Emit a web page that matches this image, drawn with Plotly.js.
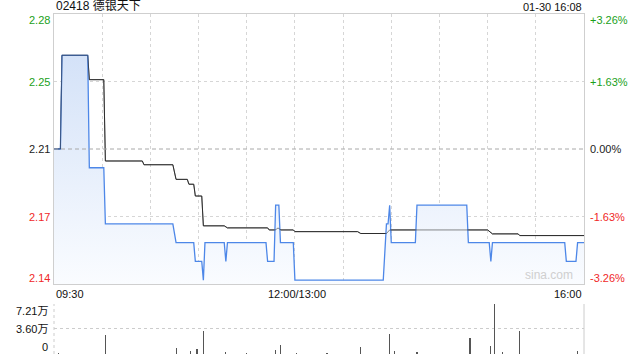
<!DOCTYPE html>
<html>
<head>
<meta charset="utf-8">
<script src="https://cdn.plot.ly/plotly-3.0.1.min.js"></script>
<style>html,body{margin:0;padding:0;background:#fff;}#chart{width:640px;height:360px;}</style>
</head>
<body>
<div id="chart"></div>
<script>
const chartTitle = "02418 德银天下";
const stampText = "01-30 16:08";
const watermark = "sina.com";
const prevClose = 2.21;

const priceTimes = ["09:30","09:34","09:35","09:51","09:52","10:01","10:02","10:44","10:46","10:57","10:58","11:02","11:03","11:04","11:16","11:17","11:18","11:42","11:43","11:47","11:48","11:50","11:51","11:59","13:00","13:55","13:57","13:58","13:59","14:00","14:15","14:16","14:47","14:48","15:01","15:02","15:03","15:48","15:49","15:55","15:56","16:00"];
const priceValues = [2.21,2.21,2.26,2.26,2.20,2.20,2.17,2.17,2.16,2.16,2.15,2.15,2.14,2.16,2.16,2.15,2.16,2.16,2.15,2.15,2.18,2.18,2.16,2.16,2.14,2.14,2.17,2.17,2.18,2.16,2.16,2.18,2.18,2.16,2.16,2.15,2.16,2.16,2.15,2.15,2.16,2.16];

const avgTimes = ["09:30","09:34","09:35","09:51","09:52","10:01","10:02","10:25","10:26","10:44","10:46","10:53","10:54","10:57","10:58","11:02","11:03","11:16","11:18","11:43","11:44","11:48","11:49","11:50","11:51","11:59","13:00","13:39","13:41","13:57","13:59","15:00","15:03","15:19","15:20","16:00"];
const avgValues = [2.21,2.21,2.26,2.26,2.247,2.247,2.2036,2.2036,2.2016,2.2016,2.1938,2.1938,2.1912,2.1912,2.1849,2.1849,2.1690,2.1690,2.1679,2.1679,2.1668,2.1668,2.1677,2.1677,2.1668,2.1668,2.1659,2.1659,2.1649,2.1649,2.1668,2.1668,2.1647,2.1647,2.1638,2.1638];

const volTimes = ["09:33","09:40","10:02","10:20","10:46","10:55","10:59","11:03","11:17","11:30","11:48","11:51","13:01","13:20","13:41","13:59","14:02","14:16","14:49","15:02","15:04","15:09","15:20","15:56"];
const volValues = [800,600,27800,700,8600,3700,7200,32600,2500,900,6200,12400,2000,900,9500,29300,4000,2500,22500,11000,72100,2500,33600,4800];

const pctTicks = [3.26, 1.63, 0, -1.63, -3.26];
const priceTickText = ["2.28","2.25","2.21","2.17","2.14"];
const pctTickText = ["+3.26%","+1.63%","0.00%","-1.63%","-3.26%"];
const xTickText = ["09:30","12:00/13:00","16:00"];
const xTickTimes = ["09:30","12:00","16:00"];
const volMax = 72100;
const volTickText = ["7.21万","3.60万","0"];

function toIdx(t){
  const p = t.split(":").map(Number);
  const m = p[0]*60 + p[1];
  return m <= 720 ? m - 570 : 150 + (m - 780);
}

const GREEN = "#1a9f1a", RED = "#f02828", BLACK = "#222";
const FONT = "Liberation Sans, Arial, Noto Sans CJK SC, sans-serif";
const tickPrices = pctTicks.map(p => prevClose*(1+p/100));
const yLo = tickPrices[4], yHi = tickPrices[0];
const colorFor = p => p > 0 ? GREEN : (p < 0 ? RED : BLACK);

const traces = [
  {
    x: avgTimes.map(toIdx), y: avgValues, type: "scatter", mode: "lines",
    line: {color: "#333333", width: 1}, hoverinfo: "skip", xaxis: "x", yaxis: "y"
  },
  {
    x: priceTimes.map(toIdx), y: priceValues, type: "scatter", mode: "lines",
    line: {color: "#4d87e8", width: 1.3}, fill: "tozeroy",
    fillgradient: {type: "vertical", start: yLo, stop: 2.26,
      colorscale: [[0, "rgba(250,252,255,1)"], [1, "rgba(212,226,248,1)"]]},
    hoverinfo: "skip", xaxis: "x", yaxis: "y"
  },
  {
    x: avgTimes.map(toIdx), y: avgValues, type: "scatter", mode: "lines",
    line: {color: "rgba(40,40,40,0.55)", width: 1}, hoverinfo: "skip", xaxis: "x", yaxis: "y"
  },
  {
    x: volTimes.map(toIdx), y: volValues, type: "bar", width: 0.7,
    marker: {color: "#555555", line: {width: 0}}, hoverinfo: "skip", xaxis: "x2", yaxis: "y2"
  }
];

const grid30 = [];
for (let i = 0; i <= 330; i += 30) grid30.push(i);

const annotations = [];
annotations.push({xref: "paper", yref: "paper", x: 0, y: 1, xanchor: "left", yanchor: "bottom", yshift: -1,
  text: chartTitle, showarrow: false, font: {family: FONT, size: 12, color: "#111"}});
annotations.push({xref: "paper", yref: "paper", x: 1, y: 1, xanchor: "right", yanchor: "bottom", yshift: -1,
  text: stampText, showarrow: false, font: {family: FONT, size: 11, color: "#111"}});
const edgeShift = [-6, 0, 0, 0, 6];
pctTicks.forEach((p, i) => {
  annotations.push({xref: "paper", yref: "y", x: 0, y: tickPrices[i], xanchor: "right", yanchor: "middle",
    xshift: -2, yshift: edgeShift[i], text: priceTickText[i], showarrow: false,
    font: {family: FONT, size: 11, color: colorFor(p)}});
  annotations.push({xref: "paper", yref: "y", x: 1, y: tickPrices[i], xanchor: "left", yanchor: "middle",
    xshift: 4, yshift: edgeShift[i], text: pctTickText[i], showarrow: false,
    font: {family: FONT, size: 11, color: colorFor(p)}});
});
const xAnch = ["left", "center", "right"];
xTickTimes.forEach((t, i) => {
  annotations.push({xref: "x", yref: "paper", x: toIdx(t), y: 0.20588, xanchor: xAnch[i], yanchor: "top",
    xshift: i === 1 ? 2 : 0, yshift: -2, text: xTickText[i], showarrow: false,
    font: {family: FONT, size: 11, color: "#111"}});
});
const volTickVals = [volMax, volMax/2, 0];
const volShift = [-7, 0, 7];
volTickVals.forEach((v, i) => {
  annotations.push({xref: "paper", yref: "y2", x: 0, y: v, xanchor: "right", yanchor: "middle",
    xshift: -4, yshift: volShift[i], text: volTickText[i], showarrow: false,
    font: {family: FONT, size: 11, color: "#111"}});
});
annotations.push({xref: "paper", yref: "y", x: 1, y: yLo, xanchor: "right", yanchor: "bottom",
  xshift: -9, yshift: 0, text: watermark, showarrow: false,
  font: {family: FONT, size: 12, color: "#cfcfcf"}});

const shapes = [
  {type: "line", xref: "paper", yref: "y", x0: 0, x1: 1, y0: prevClose, y1: prevClose,
   line: {color: "#a8a8a8", width: 1, dash: "4px,3px"}},
  {type: "line", xref: "paper", yref: "y2", x0: 1, x1: 1, y0: 0, y1: volMax,
   line: {color: "#cccccc", width: 1}},
  {type: "line", xref: "paper", yref: "y2", x0: 0, x1: 0, y0: 0, y1: volMax,
   line: {color: "#cccccc", width: 1, dash: "dot"}}
];

const layout = {
  width: 640, height: 360,
  margin: {l: 54, r: 56, t: 14, b: 6, pad: 0},
  paper_bgcolor: "#ffffff", plot_bgcolor: "#ffffff",
  showlegend: false,
  font: {family: FONT, size: 11, color: "#111"},
  xaxis: {domain: [0, 1], range: [0, 330], anchor: "y", tickvals: grid30, ticktext: grid30.map(() => ""),
    showgrid: true, gridcolor: "#d6d6d6", griddash: "dot", gridwidth: 1, ticks: "",
    showline: true, mirror: true, linecolor: "#cfcfcf", linewidth: 1, zeroline: false, fixedrange: true},
  yaxis: {domain: [0.20588, 1], range: [yLo, yHi], anchor: "x", tickvals: [tickPrices[1], tickPrices[3]],
    showticklabels: false, showgrid: true, gridcolor: "#d6d6d6", griddash: "dot", ticks: "",
    showline: true, mirror: true, linecolor: "#cfcfcf", linewidth: 1, zeroline: false, fixedrange: true},
  xaxis2: {domain: [0, 1], range: [0, 330], anchor: "y2", showgrid: false, showticklabels: false, ticks: "",
    showline: false, zeroline: false, fixedrange: true},
  yaxis2: {domain: [0, 0.1471], range: [0, volMax], anchor: "x2", tickvals: volTickVals,
    showticklabels: false, showgrid: true, gridcolor: "#cccccc", griddash: "dot", ticks: "",
    showline: false, zeroline: false, fixedrange: true},
  bargap: 0,
  annotations: annotations,
  shapes: shapes
};

Plotly.newPlot("chart", traces, layout, {displayModeBar: false, staticPlot: true});
</script>
</body>
</html>
